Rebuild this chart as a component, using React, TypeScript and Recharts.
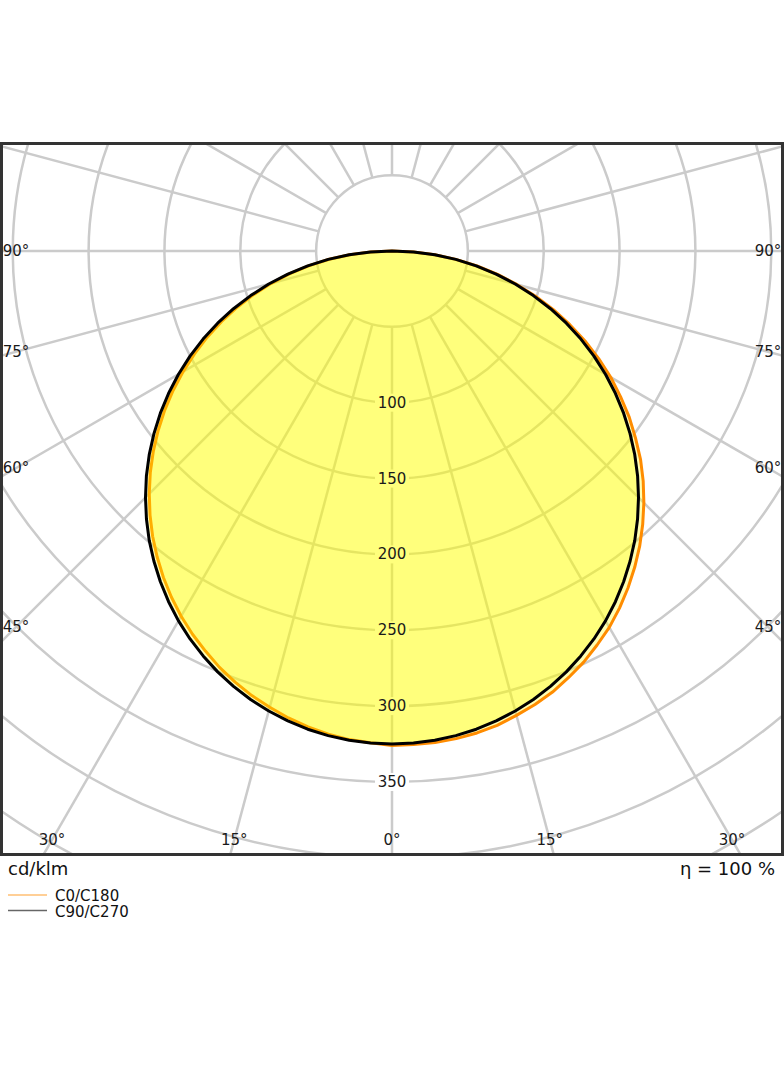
import React from "react"
import { RadarChart, Radar, PolarGrid, PolarAngleAxis, PolarRadiusAxis } from "recharts"

// gamma angles (deg) of the measured half planes, 0 = straight down, 180 = straight up
const gammas = [
  0, 2.5, 5, 7.5, 10, 12.5, 15, 17.5, 20, 22.5, 25, 27.5, 30, 32.5, 35, 37.5, 40, 42.5, 45,
  47.5, 50, 52.5, 55, 57.5, 60, 62.5, 65, 67.5, 70, 72.5, 75, 77.5, 80, 82.5, 85, 87.5, 90, 180,
]

// cd/klm (nothing is emitted upwards)
const c0 = [
  326, 325.7, 325.3, 324.2, 322.6, 320.3, 316.9, 313.5, 309.4, 304.3, 299.0, 292.8, 286.5, 279.1, 271.2, 262.8, 254.0, 244.6, 234.8,
  224.6, 213.9, 202.3, 190.9, 178.6, 166.5, 153.6, 140.4, 126.9, 113.2, 99.2, 85.1, 71.3, 56.9, 42.4, 28.3, 14.2, 0, 0,
]
const c180 = [
  326, 324.5, 323.3, 321.2, 318.6, 315.3, 311.4, 307.3, 302.4, 297.1, 291.0, 284.8, 278.0, 270.6, 262.7, 254.3, 245.5, 236.1, 226.3,
  216.1, 205.4, 194.3, 182.9, 171.1, 159.0, 146.8, 134.4, 121.7, 108.8, 95.7, 82.4, 69.0, 55.4, 41.7, 27.9, 14.0, 0, 0,
]
const c90 = [
  325, 324.7, 323.8, 322.2, 320.1, 317.3, 313.9, 310.0, 305.4, 300.3, 294.5, 288.3, 281.5, 274.1, 266.2, 257.8, 249.0, 239.6, 229.8,
  219.6, 208.9, 197.8, 186.4, 174.6, 162.5, 150.1, 137.4, 124.4, 111.2, 97.7, 84.1, 70.3, 56.4, 42.4, 28.3, 14.2, 0, 0,
]
const c270 = [
  325, 324.7, 323.8, 322.2, 320.1, 317.3, 313.9, 310.0, 305.4, 300.3, 294.5, 288.3, 281.5, 274.1, 266.2, 257.8, 249.0, 239.6, 229.8,
  219.6, 208.9, 197.8, 186.4, 174.6, 162.5, 150.1, 137.4, 124.4, 111.2, 97.7, 84.1, 70.3, 56.4, 42.4, 28.3, 14.2, 0, 0,
]

const seriesNames = ["C0/C180", "C90/C270"]
const gridRings = [50, 100, 150, 200, 250, 300, 350, 400, 450, 500]
const radiusLabels = [100, 150, 200, 250, 300, 350]
const spokes = [0, 15, 30, 45, 60, 75, 90, 105, 120, 135, 150, 165, 180, 195, 210, 225, 240, 255, 270, 285, 300, 315, 330, 345]
const labelledGammas = [0, 15, 30, 45, 60, 75, 90]

// right half = C0 / C90, left half = C180 / C270
const rows: { pos: number; c0c180: number; c90c270: number }[] = []
gammas.forEach((g, i) => rows.push({ pos: g, c0c180: c0[i], c90c270: c90[i] }))
for (let i = gammas.length - 2; i >= 1; i--) {
  rows.push({ pos: 360 - gammas[i], c0c180: c180[i], c90c270: c270[i] })
}

const W = 778
const H = 708
const CX = 389
const CY = 106
const PX = 1.517 // px per cd/klm
const LABEL_HALF_W = 376
const LABEL_BOTTOM = 589
const FONT = "'DejaVu Sans', sans-serif"
const ORANGE = "#ff8c00"

function AngleTick(props: any) {
  const { x, y, payload } = props
  const pos = Number(payload.value)
  const gamma = pos <= 180 ? pos : 360 - pos
  if (!labelledGammas.includes(gamma)) return <g />
  const dx = x - CX
  const dy = y - CY
  const len = Math.hypot(dx, dy)
  const ux = dx / len
  const uy = dy / len
  const tSide = Math.abs(ux) > 1e-6 ? LABEL_HALF_W / Math.abs(ux) : Infinity
  const tBottom = uy > 1e-6 ? LABEL_BOTTOM / uy : Infinity
  const t = Math.min(tSide, tBottom)
  return (
    <text x={CX + ux * t} y={CY + uy * t} textAnchor="middle" dominantBaseline="central"
      fontSize={15} fill="#1a1a1a" fontFamily={FONT}>
      {gamma}°
    </text>
  )
}

function LabelBg(props: any) {
  return <rect x={props.x - 17} y={props.y - 9} width={34} height={18} fill="#fff" />
}

function LabelText(props: any) {
  return (
    <text x={props.x} y={props.y} textAnchor="middle" dominantBaseline="central"
      fontSize={15} fill="#1a1a1a" fontFamily={FONT}>
      {props.payload.value}
    </text>
  )
}

export default function App() {
  const radiusCommon = {
    type: "number" as const,
    domain: [50, 500] as [number, number],
    allowDataOverflow: true,
    axisLine: false,
    tickLine: false,
  }
  return (
    <div style={{ position: "absolute", left: 0, top: 0, width: 784, height: 1066, background: "#fff", fontFamily: FONT }}>
      <div style={{ position: "absolute", left: 0, top: 142, width: 784, height: 714, border: "3px solid #333", boxSizing: "border-box", overflow: "hidden" }}>
        <RadarChart width={W} height={H} data={rows} cx={CX} cy={CY}
          innerRadius={50 * PX} outerRadius={500 * PX} startAngle={-90} endAngle={270}
          margin={{ top: 0, right: 0, bottom: 0, left: 0 }}>
          <PolarGrid gridType="circle" stroke="#cbcbcb" strokeWidth={2.5} />
          <PolarAngleAxis dataKey="pos" type="number" domain={[0, 360]} ticks={spokes}
            axisLine={false} tickLine={false} tick={AngleTick} />
          <PolarRadiusAxis {...radiusCommon} ticks={gridRings} tick={false} />
          <PolarRadiusAxis {...radiusCommon} radiusAxisId="bg" angle={-90} ticks={radiusLabels}
            tick={LabelBg} zIndex={-50} />
          <Radar name={seriesNames[0]} dataKey="c0c180" stroke={ORANGE} strokeWidth={3} strokeLinejoin="round"
            fill="#ffff00" fillOpacity={0.3} dot={false} isAnimationActive={false} zIndex={100} />
          <Radar name={seriesNames[1]} dataKey="c90c270" stroke="#000" strokeWidth={3} strokeLinejoin="round"
            fill="#ffff00" fillOpacity={0.3} dot={false} isAnimationActive={false} zIndex={101} />
          <PolarRadiusAxis {...radiusCommon} radiusAxisId="lbl" angle={-90} ticks={radiusLabels}
            tick={LabelText} zIndex={600} />
        </RadarChart>
      </div>
      <svg style={{ position: "absolute", left: 0, top: 856 }} width={784} height={80}>
        <text x={8} y={19} fontSize={18} fill="#111" fontFamily={FONT}>cd/klm</text>
        <text x={775} y={19} fontSize={18} fill="#111" fontFamily={FONT} textAnchor="end">η = 100 %</text>
        {seriesNames.map((name, i) => (
          <g key={name}>
            <line x1={8} x2={47} y1={39 + i * 15.5} y2={39 + i * 15.5}
              stroke={i === 0 ? ORANGE : "#000"} strokeOpacity={i === 0 ? 0.55 : 0.6} strokeWidth={1.3} />
            <text x={55} y={45 + i * 16} fontSize={15} fill="#111" fontFamily={FONT}>{name}</text>
          </g>
        ))}
      </svg>
    </div>
  )
}
